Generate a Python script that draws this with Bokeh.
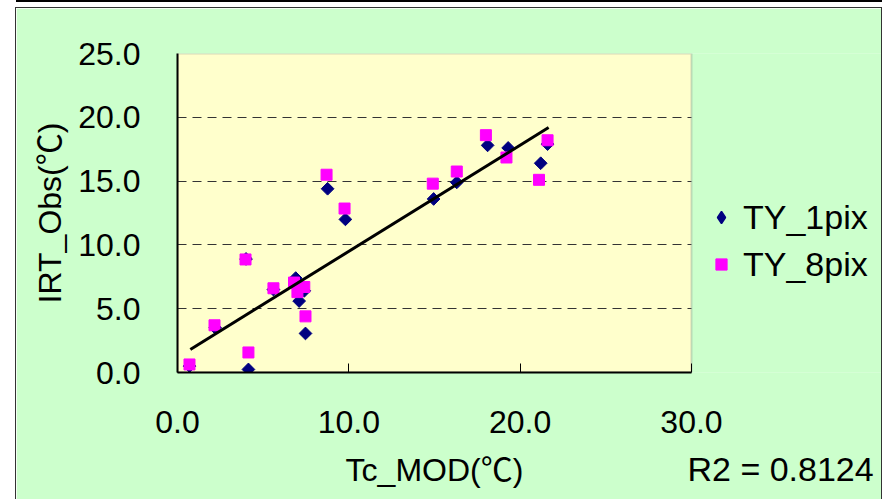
from math import pi, nan
from bokeh.plotting import figure
from bokeh.models import (Range1d, FixedTicker, NumeralTickFormatter, Legend,
                          LegendItem, Spacer, BoxAnnotation, LinearAxis)
from bokeh.layouts import row, column
from bokeh.embed import file_html
from bokeh.resources import INLINE

# ---- data ----
x_ticks = [0, 10, 20, 30]
y_ticks = [0, 5, 10, 15, 20, 25]
grid_ticks = [5, 10, 15, 20]
x_min, x_max = 0, 30
y_min, y_max = 0, 25

ty1_x = [0.7, 4.14, 4.0, 2.2, 7.47, 7.1, 6.9, 7.4, 5.6, 8.76, 9.8,
         14.95, 16.3, 18.1, 19.3, 21.2, 21.6]
ty1_y = [0.5, 0.24, 8.9, 3.5, 3.06, 5.6, 7.4, 6.4, 6.5, 14.4, 12.0,
         13.6, 14.9, 17.8, 17.6, 16.4, 17.9]

ty8_x = [0.7, 2.16, 4.14, 3.97, 5.6, 6.8, 7.0, 7.4, 7.47, 8.7, 9.75,
         14.9, 16.3, 18.0, 19.2, 21.1, 21.6]
ty8_y = [0.63, 3.7, 1.57, 8.86, 6.6, 7.05, 6.3, 6.7, 4.4, 15.5, 12.85,
         14.8, 15.75, 18.6, 16.85, 15.1, 18.2]

fit_x = [0.75, 21.66]
fit_y = [1.8, 19.2]

x_title = "Tc_MOD(℃)"
y_title = "IRT_Obs(℃)"
x_title_pos = 15.0     # centre of the x title (data units)
r2_text = "R2 = 0.8124"
r2_pos = 35.2          # centre of the R2 note (data units)

FONT = "Liberation Sans"
TITLE_FONT = "Liberation Sans, Noto Sans CJK JP"
GREEN = "#CCFFCC"
YELLOW = "#FFFFCC"
EDGE = "#333333"
NAVY = "#000080"
MAGENTA = "#FF00FF"

# the frame also spans the legend strip on the right, so x reaches past 30
p = figure(width=865, height=491,
           x_range=Range1d(x_min, 41.09), y_range=Range1d(y_min, y_max),
           output_backend="svg", toolbar_location=None,
           min_border_left=161, min_border_right=0,
           min_border_top=45, min_border_bottom=127)
p.background_fill_color = GREEN
p.border_fill_color = GREEN
p.outline_line_color = None

# plot area (0..30 x 0..25)
p.add_layout(BoxAnnotation(left=x_min, right=x_max, bottom=y_min, top=y_max,
                           fill_color=YELLOW, fill_alpha=1, line_color=None,
                           level="image"))

p.xgrid.visible = False
p.ygrid.ticker = FixedTicker(ticks=grid_ticks)
p.ygrid.grid_line_color = "#333333"
p.ygrid.grid_line_dash = "9 6"
p.ygrid.grid_line_width = 1

# hide grid lines outside the plot area
p.add_layout(BoxAnnotation(left=x_max, fill_color=GREEN, fill_alpha=1,
                           line_color=None, level="underlay"))
# grey border of the plot area
p.add_layout(BoxAnnotation(left=x_min, right=x_max, bottom=y_min, top=y_max,
                           fill_alpha=0, line_color="#808080", line_width=2,
                           level="underlay"))

for ax in (p.xaxis[0], p.yaxis[0]):
    ax.formatter = NumeralTickFormatter(format="0.0")
    ax.major_label_text_font = FONT
    ax.major_label_text_font_size = "32px"
    ax.major_label_text_color = "black"
    ax.axis_line_color = "black"
    ax.axis_line_width = 2
    ax.minor_tick_line_color = None

p.xaxis.bounds = (x_min, x_max)
p.xaxis.ticker = FixedTicker(ticks=x_ticks)
p.yaxis.ticker = FixedTicker(ticks=y_ticks)
p.xaxis.major_tick_in = 9
p.xaxis.major_tick_out = 0
p.xaxis.major_tick_line_color = "black"
p.xaxis.major_tick_line_width = 1
p.xaxis.major_label_standoff = 38

p.yaxis.major_tick_in = 0
p.yaxis.major_tick_out = 0
p.yaxis.major_label_standoff = 37
p.yaxis.axis_label = y_title
p.yaxis.axis_label_text_font = TITLE_FONT
p.yaxis.axis_label_text_font_size = "32px"
p.yaxis.axis_label_text_font_style = "normal"
p.yaxis.axis_label_text_color = "black"
p.yaxis.axis_label_standoff = 7


def text_axis(pos, text, size, standoff):
    """A bare bottom axis that only shows one text at x = pos."""
    return LinearAxis(ticker=FixedTicker(ticks=[pos]),
                      major_label_overrides={pos: text},
                      axis_line_color=None, major_tick_line_color=None,
                      minor_tick_line_color=None,
                      major_tick_in=0, major_tick_out=0,
                      major_label_standoff=standoff,
                      major_label_text_font=TITLE_FONT,
                      major_label_text_font_size=size,
                      major_label_text_color="black")


# x axis title (centred under the 0..30 plot area) and the R2 note
p.add_layout(text_axis(x_title_pos, x_title, "32px", 16), "below")
p.add_layout(text_axis(r2_pos, r2_text, "34px", -41), "below")

r1 = p.scatter(ty1_x, ty1_y, marker="square", angle=pi / 4, size=9,
               fill_color=NAVY, line_color=NAVY)
r8 = p.scatter(ty8_x, ty8_y, marker="square", size=11,
               fill_color=MAGENTA, line_color=MAGENTA)
p.line(fit_x, fit_y, line_color="black", line_width=3)

# legend key for TY_1pix drawn as a diamond (legend keys ignore marker angle);
# its single point is NaN, so nothing of it shows in the plot area
key1 = p.scatter([nan], [nan], marker="diamond", size=12,
                 fill_color=NAVY, line_color=NAVY, line_width=1.5)

common = dict(orientation="vertical", background_fill_alpha=0,
              border_line_alpha=0, padding=0, margin=0, spacing=0,
              label_height=40, label_text_font=FONT,
              label_text_font_size="34px", label_text_color="black")
p.add_layout(Legend(items=[LegendItem(label="TY_1pix", renderers=[key1])],
                    location=(529, 135), glyph_width=30, glyph_height=30,
                    label_standoff=7, **common))
p.add_layout(Legend(items=[LegendItem(label="TY_8pix", renderers=[r8])],
                    location=(530, 88), glyph_width=28, glyph_height=28,
                    label_standoff=8, **common))


def bar(w, h, color=None):
    if color is None:
        return Spacer(width=w, height=h)
    return Spacer(width=w, height=h, styles={"background-color": color})


layout = column(
    row(bar(16, 2), bar(866, 2, "#000000")),
    bar(10, 5),
    row(bar(15, 1), bar(867, 1, EDGE)),
    row(bar(15, 491), bar(1, 491, EDGE), p, bar(1, 491, EDGE)),
)

open("out.html", "w").write(file_html(layout, INLINE))
